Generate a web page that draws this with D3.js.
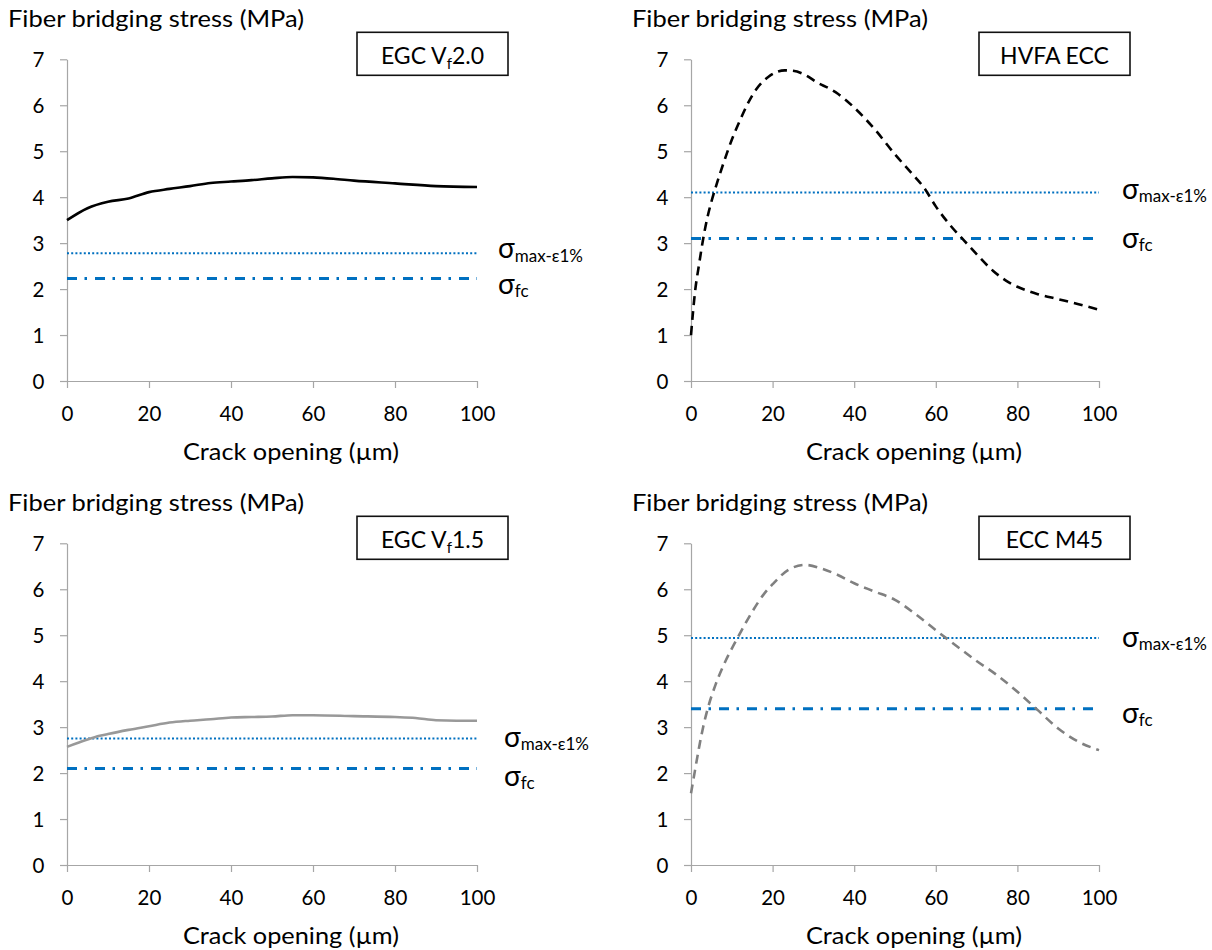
<!DOCTYPE html>
<html><head><meta charset="utf-8">
<script src="https://cdn.jsdelivr.net/npm/d3@7"></script>
<style>
body{margin:0;background:#fff}
svg{display:block}
text{font-family:Lato,'Noto Sans',sans-serif;fill:#000}
</style>
</head><body>
<svg id="chart" width="1212" height="950"></svg>
<script>
// ---------- data ----------
const xTickValues = [0, 20, 40, 60, 80, 100];
const yTickValues = [0, 1, 2, 3, 4, 5, 6, 7];
const yTitle = "Fiber bridging stress (MPa)";
const xTitle = "Crack opening (µm)";

const legendMain = ["EGC V", "HVFA ECC", "EGC V", "ECC M45"];
const legendSub  = ["f", "", "f", ""];
const legendRest = ["2.0", "", "1.5", ""];

const sigmaMax = [2.78, 4.10, 2.75, 4.94];   // σmax-ε1%
const sigmaFc  = [2.23, 3.10, 2.10, 3.40];   // σfc

const egc20Open   = [0, 5, 10, 15, 20, 25, 30, 35, 40, 45, 50, 55, 60, 65, 70, 80, 90, 100];
const egc20Stress = [3.50, 3.76, 3.90, 3.97, 4.11, 4.18, 4.24, 4.31, 4.34, 4.37, 4.41, 4.44, 4.43, 4.40, 4.36, 4.30, 4.24, 4.22];

const hvfaOpen   = [0, 1, 2, 3, 4, 5, 6, 8, 10, 12, 14, 16, 19, 23, 25, 28, 31, 34, 36, 40, 45, 50, 55, 57, 60, 64, 67, 70, 74, 78, 80, 85, 90, 95, 100];
const hvfaStress = [1.00, 1.95, 2.55, 3.10, 3.55, 3.90, 4.20, 4.75, 5.25, 5.67, 6.05, 6.35, 6.62, 6.76, 6.75, 6.66, 6.49, 6.36, 6.25, 5.95, 5.48, 4.93, 4.43, 4.22, 3.80, 3.34, 3.05, 2.76, 2.40, 2.14, 2.05, 1.89, 1.78, 1.67, 1.55];

const egc15Open   = [0, 5, 8, 10, 15, 20, 25, 30, 35, 40, 45, 50, 55, 60, 70, 80, 85, 90, 95, 100];
const egc15Stress = [2.57, 2.73, 2.81, 2.85, 2.94, 3.02, 3.10, 3.14, 3.17, 3.21, 3.22, 3.23, 3.26, 3.26, 3.24, 3.22, 3.20, 3.15, 3.14, 3.14];

const m45Open   = [0, 1, 2, 3, 4, 6, 8, 10, 12, 15, 18, 20, 24, 28, 32, 36, 40, 45, 50, 55, 60, 65, 70, 75, 80, 85, 90, 95, 100];
const m45Stress = [1.56, 2.07, 2.57, 3.01, 3.37, 3.92, 4.35, 4.71, 5.04, 5.51, 5.91, 6.11, 6.43, 6.53, 6.45, 6.31, 6.13, 5.95, 5.77, 5.46, 5.11, 4.77, 4.44, 4.13, 3.77, 3.37, 2.97, 2.68, 2.50];

// ---------- layout ----------
const panels = [
  {left: 67,  right: 477,  top: 59.3,  bottom: 381, open: egc20Open, stress: egc20Stress, color: "#000",    dash: null,  titleX: 8,   sigX: 498,  maxOff: 5,  fcOff: 15},
  {left: 691, right: 1099, top: 59.3,  bottom: 381, open: hvfaOpen,  stress: hvfaStress,  color: "#000",    dash: "9,6", titleX: 632, sigX: 1122, maxOff: 6,  fcOff: 9},
  {left: 67,  right: 477,  top: 543.3, bottom: 865, open: egc15Open, stress: egc15Stress, color: "#999999", dash: null,  titleX: 8,   sigX: 504,  maxOff: 8,  fcOff: 18},
  {left: 691, right: 1099, top: 543.3, bottom: 865, open: m45Open,   stress: m45Stress,   color: "#808080", dash: "9,6", titleX: 632, sigX: 1122, maxOff: 9,  fcOff: 14}
];

const axisColor = "#a6a6a6";
const blue = "#0070C0";
const tickFont = 20.5;
const svg = d3.select("#chart");

panels.forEach((p, i) => {
  const x = d3.scaleLinear().domain([0, 100]).range([p.left, p.right]);
  const y = d3.scaleLinear().domain([0, 7]).range([p.bottom, p.top]);
  const g = svg.append("g");

  // y title (top-left)
  g.append("text")
    .attr("x", p.titleX).attr("y", p.top - 32.3)
    .attr("font-size", 23)
    .attr("textLength", 296).attr("lengthAdjust", "spacingAndGlyphs")
    .text(yTitle);

  // x axis
  const gx = g.append("g").attr("transform", `translate(0,${p.bottom})`)
    .call(d3.axisBottom(x).tickValues(xTickValues).tickFormat(d3.format("d")).tickSize(7).tickSizeOuter(0));
  gx.select(".domain").attr("stroke", axisColor).attr("stroke-width", 1.2);
  gx.selectAll(".tick line").attr("stroke", axisColor).attr("stroke-width", 1.2);
  gx.selectAll(".tick text").attr("y", 39.5).attr("dy", null)
    .attr("font-size", tickFont).attr("font-family", "Lato,'Noto Sans',sans-serif").attr("fill", "#000");

  // y axis
  const gy = g.append("g").attr("transform", `translate(${p.left},0)`)
    .call(d3.axisLeft(y).tickValues(yTickValues).tickFormat(d3.format("d")).tickSize(7).tickSizeOuter(0));
  gy.select(".domain").attr("stroke", axisColor).attr("stroke-width", 1.2);
  gy.selectAll(".tick line").attr("stroke", axisColor).attr("stroke-width", 1.2);
  gy.selectAll(".tick text").attr("x", -22.5).attr("dy", "0.36em")
    .attr("font-size", tickFont).attr("font-family", "Lato,'Noto Sans',sans-serif").attr("fill", "#000");

  // x title
  g.append("text")
    .attr("x", (p.left + p.right) / 2 + 19).attr("y", p.bottom + 79)
    .attr("text-anchor", "middle")
    .attr("font-size", 23)
    .attr("textLength", 216).attr("lengthAdjust", "spacingAndGlyphs")
    .text(xTitle);

  // threshold lines
  g.append("line")
    .attr("x1", x(0)).attr("x2", x(100))
    .attr("y1", y(sigmaMax[i])).attr("y2", y(sigmaMax[i]))
    .attr("stroke", blue).attr("stroke-width", 2).attr("stroke-dasharray", "2,2.2");
  g.append("line")
    .attr("x1", x(0)).attr("x2", x(100))
    .attr("y1", y(sigmaFc[i])).attr("y2", y(sigmaFc[i]))
    .attr("stroke", blue).attr("stroke-width", 3).attr("stroke-dasharray", "10,7.5,2.5,8");

  // curve
  const pts = p.open.map((o, k) => [o, p.stress[k]]);
  const line = d3.line().x(d => x(d[0])).y(d => y(d[1])).curve(d3.curveMonotoneX);
  const path = g.append("path").datum(pts)
    .attr("d", line).attr("fill", "none")
    .attr("stroke", p.color).attr("stroke-width", 2.6)
    .attr("stroke-linejoin", "round");
  if (p.dash) path.attr("stroke-dasharray", p.dash);

  // sigma labels
  const t1 = g.append("text").attr("x", p.sigX).attr("y", y(sigmaMax[i]) + p.maxOff);
  t1.append("tspan").attr("font-size", 28).text("σ");
  t1.append("tspan").attr("font-size", 17).attr("dy", 3.5).text("max-ε1%");
  const t2 = g.append("text").attr("x", p.sigX).attr("y", y(sigmaFc[i]) + p.fcOff);
  t2.append("tspan").attr("font-size", 28).text("σ");
  t2.append("tspan").attr("font-size", 17).attr("dy", 3).text("fc");

  // legend box
  const bx = p.right - 120, by = p.top - 27, bw = 151, bh = 43;
  g.append("rect").attr("x", bx).attr("y", by).attr("width", bw).attr("height", bh)
    .attr("fill", "#fff").attr("stroke", "#111").attr("stroke-width", 1.6);
  const lt = g.append("text").attr("x", bx + bw / 2).attr("y", by + 32)
    .attr("text-anchor", "middle").attr("font-size", 23);
  lt.append("tspan").text(legendMain[i]);
  if (legendSub[i]) {
    lt.append("tspan").attr("font-size", 15).attr("dy", 5).text(legendSub[i]);
    lt.append("tspan").attr("dy", -5).text(legendRest[i]);
  }
});
</script>
</body></html>
